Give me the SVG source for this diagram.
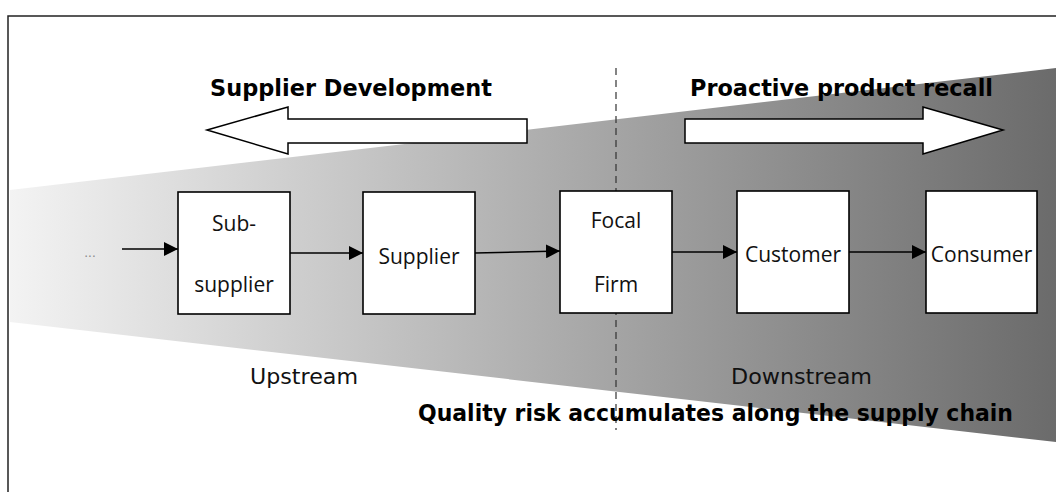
<svg xmlns="http://www.w3.org/2000/svg" width="1056" height="492" viewBox="0 0 1056 492">
<defs>
<linearGradient id="g" gradientUnits="userSpaceOnUse" x1="10" y1="0" x2="1056" y2="0">
<stop offset="0" stop-color="#f3f3f3"/>
<stop offset="1" stop-color="#6b6b6b"/>
</linearGradient>
<marker id="ah" markerWidth="14" markerHeight="14" refX="14" refY="7" orient="auto" markerUnits="userSpaceOnUse" viewBox="0 0 14 14">
<path d="M0,0 L14,7 L0,14 z" fill="#000"/>
</marker>
<style>
.box{fill:#fff;stroke:#000;stroke-width:1.6}
.lbl{font-family:"Open Sans","Noto Sans",sans-serif;font-size:21px;fill:#111;text-anchor:middle}
.bold{font-family:"DejaVu Sans",Verdana,sans-serif;font-weight:bold;font-size:23px;fill:#000}
.reg{font-family:"DejaVu Sans",Verdana,sans-serif;font-size:21px;fill:#111}
.con{stroke:#000;stroke-width:1.6;fill:none;marker-end:url(#ah)}
.blk{fill:#fff;stroke:#000;stroke-width:1.5}
</style>
</defs>
<rect x="0" y="0" width="1056" height="492" fill="#fff"/>
<rect x="8" y="16" width="1070" height="500" fill="none" stroke="#222" stroke-width="1.5"/>
<polygon points="10,190 1056,68 1056,442 10,322" fill="url(#g)"/>
<line x1="616" y1="68" x2="616" y2="430" stroke="#333" stroke-width="1.2" stroke-dasharray="7,5"/>
<polygon class="blk" points="207,130 288,107 288,119 527,119 527,143 288,143 288,154"/>
<polygon class="blk" points="1003,130 923,107 923,119 685,119 685,143 923,143 923,154"/>
<text class="bold" x="210" y="96" textLength="282" lengthAdjust="spacingAndGlyphs">Supplier Development</text>
<text class="bold" x="690" y="96" textLength="303" lengthAdjust="spacingAndGlyphs">Proactive product recall</text>
<text class="reg" x="250" y="384" textLength="108" lengthAdjust="spacingAndGlyphs">Upstream</text>
<text class="reg" x="731" y="384" textLength="141" lengthAdjust="spacingAndGlyphs">Downstream</text>
<text class="bold" x="418" y="421" textLength="595" lengthAdjust="spacingAndGlyphs">Quality risk accumulates along the supply chain</text>
<text x="90" y="257" font-family="DejaVu Sans, sans-serif" font-size="12" fill="#888" text-anchor="middle">...</text>
<g id="connectors">
<line class="con" x1="122" y1="249" x2="178" y2="249"/>
<line class="con" x1="290" y1="253" x2="363" y2="253"/>
<line class="con" x1="475" y1="253" x2="560" y2="251"/>
<line class="con" x1="672" y1="252" x2="737" y2="252"/>
<line class="con" x1="849" y1="252" x2="926" y2="252"/>
</g>
<g id="sub-supplier">
<rect class="box" x="178" y="192" width="112" height="122"/>
<text class="lbl" x="234" y="231">Sub-</text>
<text class="lbl" x="234" y="292">supplier</text>
</g>
<g id="supplier">
<rect class="box" x="363" y="192" width="112" height="122"/>
<text class="lbl" x="419" y="264">Supplier</text>
</g>
<g id="focal-firm">
<rect class="box" x="560" y="191" width="112" height="122"/>
<text class="lbl" x="616" y="228">Focal</text>
<text class="lbl" x="616" y="292">Firm</text>
</g>
<g id="customer">
<rect class="box" x="737" y="191" width="112" height="122"/>
<text class="lbl" x="793" y="262">Customer</text>
</g>
<g id="consumer">
<rect class="box" x="926" y="191" width="111" height="122"/>
<text class="lbl" x="981.5" y="262">Consumer</text>
</g>
</svg>
